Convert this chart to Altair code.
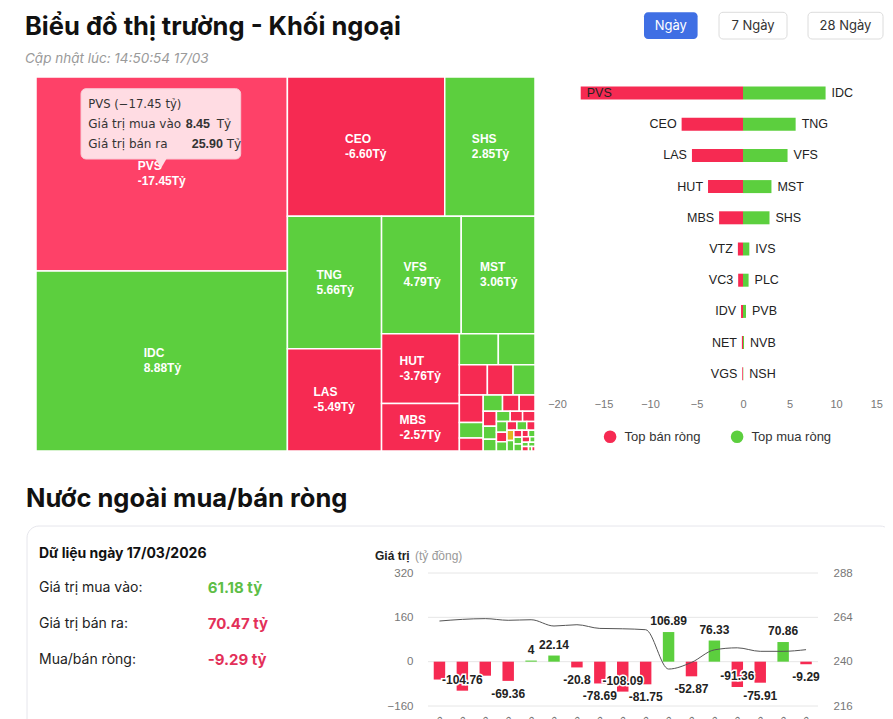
import altair as alt
import pandas as pd

# ---------------- texts / summary ----------------
TITLE = "Biểu đồ thị trường - Khối ngoại"
UPDATED = "Cập nhật lúc: 14:50:54 17/03"
PERIODS = ["Ngày", "7 Ngày", "28 Ngày"]
SECTION2 = "Nước ngoài mua/bán ròng"
DATA_DATE = "17/03/2026"
TOTAL_BUY = 61.18
TOTAL_SELL = 70.47

# ---------------- treemap (size = buy+sell, colour = net) ----------------
tm_names = ["PVS", "IDC", "CEO", "SHS", "TNG", "LAS", "VFS", "MST", "HUT", "MBS",
            "IVS", "PLC", "VTZ", "VC3", "PVB", "IDV", "NVB", "NET", "NSH", "VGS",
            "BVS", "DTD", "TIG", "NTP", "HHC", "L14", "PVC", "THD", "VCS", "SLS",
            "DHT", "TVC", "API", "AMV", "KSV", "VIG", "BCC", "DXP", "PSD", "NBC",
            "HLD", "TAR", "VNR", "PGS", "SHN", "TDN", "KLF"]
tm_total = [34.35, 31.90, 15.43, 8.85, 8.80, 6.78, 6.60, 6.11, 3.83, 2.60,
            0.85, 0.80, 0.60, 0.55, 0.47, 0.46, 0.26, 0.22, 0.22, 0.19,
            0.18, 0.14, 0.12, 0.11, 0.10, 0.09, 0.09, 0.08, 0.07, 0.07,
            0.06, 0.06, 0.05, 0.05, 0.05, 0.04, 0.04, 0.04, 0.03, 0.03,
            0.03, 0.02, 0.02, 0.02, 0.02, 0.01, 0.01]
tm_net = [-17.45, 8.88, -6.60, 2.85, 5.66, -5.49, 4.79, 3.06, -3.76, -2.57,
          0.68, 0.60, -0.55, -0.52, 0.32, -0.21, 0.11, -0.12, 0.03, -0.08,
          -0.03, -0.03, 0.02, 0.02, 0.01, -0.02, -0.02, 0.01, -0.01, 0.01,
          -0.01, 0.01, -0.01, 0.00, 0.01, -0.01, 0.01, 0.01, -0.01, 0.01,
          -0.01, 0.01, 0.01, -0.01, 0.01, 0.01, -0.01]
HOVER = "PVS"
HOVER_BUY = 8.45
HOVER_SELL = 25.90

# ---------------- top net sell / buy ----------------
sell_names = ["PVS", "CEO", "LAS", "HUT", "MBS", "VTZ", "VC3", "IDV", "NET", "VGS"]
sell_vals = [-17.45, -6.60, -5.49, -3.76, -2.57, -0.55, -0.52, -0.21, -0.12, -0.08]
buy_names = ["IDC", "TNG", "VFS", "MST", "SHS", "IVS", "PLC", "PVB", "NVB", "NSH"]
buy_vals = [8.88, 5.66, 4.79, 3.06, 2.85, 0.68, 0.60, 0.32, 0.11, 0.03]
SELL_LBL = "Top bán ròng"
BUY_LBL = "Top mua ròng"
div_ticks = [-20, -15, -10, -5, 0, 5, 10, 15]

# ---------------- daily net flow + index ----------------
dates = ["23/02", "24/02", "25/02", "26/02", "27/02", "02/03", "03/03", "04/03", "05/03",
         "06/03", "09/03", "10/03", "11/03", "12/03", "13/03", "16/03", "17/03"]
day_net = [-64.5, -104.76, -50.6, -69.36, 4, 22.14, -20.8, -78.69, -108.09,
           -81.75, 106.89, -52.87, 76.33, -91.36, -75.91, 70.86, -9.29]
index_vals = [262.0, 262.9, 263.3, 262.4, 262.7, 259.3, 260.0, 258.0, 257.8,
              257.3, 236.0, 239.6, 246.4, 247.5, 245.6, 245.6, 246.5]
label_mode = ["none", "in", "none", "out", "out", "out", "out", "out", "in",
              "out", "out", "out", "out", "in", "out", "out", "out"]
left_ticks = [-160, 0, 160, 320]
right_ticks = [216, 240, 264, 288]

# ---------------- style ----------------
W, H = 877, 711
FONT_UI = "Inter"
FONT_CH = "Liberation Sans"
FONT_TT = "DejaVu Sans"
RED = "#F62A52"
RED_HI = "#FE4168"
GREEN = "#5CCF3E"
YELLOW = "#E3B520"
TXT_RED = "#E33059"
TXT_GREEN = "#5DBE47"
BLUE = "#3F6FE4"
AX = "#777777"

one = pd.DataFrame({"k": [0]})


def text_at(s, x, y, size=13, weight="normal", color="#222222", align="left",
            baseline="middle", font=FONT_UI, style="normal"):
    return alt.Chart(one).mark_text(
        text=s, align=align, baseline=baseline, fontSize=size, fontWeight=weight,
        color=color, font=font, fontStyle=style
    ).encode(x=alt.value(x), y=alt.value(y))


def box(x, x2, y, y2, fill, stroke=None, radius=0, sw=1):
    kw = dict(cornerRadius=radius, fill=fill)
    if stroke:
        kw.update(stroke=stroke, strokeWidth=sw)
    return alt.Chart(one).mark_rect(**kw).encode(
        x=alt.value(x), x2=alt.value(x2), y=alt.value(y), y2=alt.value(y2))


def squarify(values, x0, y0, x1, y1):
    out = [None] * len(values)
    value = float(sum(values))
    n = len(values)
    i0 = 0
    while i0 < n:
        dx, dy = x1 - x0, y1 - y0
        i1 = i0
        s = values[i1]
        i1 += 1
        vmin = vmax = s
        alpha = max(dy / dx, dx / dy) / value
        beta = s * s * alpha
        best = max(vmax / beta, beta / vmin)
        while i1 < n:
            v = values[i1]
            s2 = s + v
            nmin, nmax = min(vmin, v), max(vmax, v)
            beta = s2 * s2 * alpha
            r = max(nmax / beta, beta / nmin)
            if r > best:
                break
            s, vmin, vmax, best = s2, nmin, nmax, r
            i1 += 1
        if dx < dy:
            h = dy * s / value
            cx = x0
            for k in range(i0, i1):
                w = dx * values[k] / s
                out[k] = (cx, y0, cx + w, y0 + h)
                cx += w
            y0 += h
        else:
            w = dx * s / value
            cy = y0
            for k in range(i0, i1):
                h = dy * values[k] / s
                out[k] = (x0, cy, x0 + w, cy + h)
                cy += h
            x0 += w
        value -= s
        i0 = i1
    return out


layers = []

# card background for the lower section
layers.append(box(19, 884, 518, 800, "white", stroke="#e6e6ec", radius=12))

# ---------------- header ----------------
layers.append(text_at(TITLE, 17, 26.5, size=25.5, weight=700, color="#111111", baseline="alphabetic"))
layers.append(text_at(UPDATED, 17, 51, size=13.5, color="#9a9a9a", style="italic"))
btn_pos = [(636, 689.6), (711, 779), (800, 875)]
for i, (lab, (bx0, bx1)) in enumerate(zip(PERIODS, btn_pos)):
    if i == 0:
        layers.append(box(bx0, bx1, 4.3, 31, BLUE, radius=4))
        layers.append(text_at(lab, (bx0 + bx1) / 2, 17.8, size=13, color="white", align="center"))
    else:
        layers.append(box(bx0, bx1, 4.3, 31, "white", stroke="#dcdcdc", radius=4))
        layers.append(text_at(lab, (bx0 + bx1) / 2, 17.8, size=13, color="#333333", align="center"))

# ---------------- treemap ----------------
TM_W, TM_H = 499, 374
order = sorted(range(len(tm_names)), key=lambda i: -tm_total[i])
vals = [tm_total[i] for i in order]
rects = squarify(vals, 0, 0, TM_W, TM_H)
tm_rows = []
for k, i in enumerate(order):
    x0, y0, x1, y1 = rects[k]
    tm_rows.append(dict(name=tm_names[i], total=tm_total[i], net=tm_net[i],
                        x0=x0, y0=y0, x1=x1, y1=y1, cx=(x0 + x1) / 2, cy=(y0 + y1) / 2,
                        w=x1 - x0, h=y1 - y0, vlab=f"{tm_net[i]:.2f}Tỷ"))
tm_df = pd.DataFrame(tm_rows)
tm_x = alt.Scale(domain=[0, TM_W], range=[28, 527], nice=False, zero=False)
tm_y = alt.Scale(domain=[0, TM_H], range=[69, 443], nice=False, zero=False)
state_expr = (f"datum.name == '{HOVER}' ? 'hover' : (datum.net > 0 ? 'up' : "
              "(datum.net < 0 ? 'down' : 'flat'))")
tm_base = alt.Chart(tm_df)
tm_rect = tm_base.transform_calculate(state=state_expr).mark_rect(
    stroke="white", strokeWidth=1.5
).encode(
    x=alt.X("x0:Q", scale=tm_x, axis=None), x2="x1:Q",
    y=alt.Y("y0:Q", scale=tm_y, axis=None), y2="y1:Q",
    color=alt.Color("state:N", legend=None,
                    scale=alt.Scale(domain=["hover", "up", "down", "flat"],
                                    range=[RED_HI, GREEN, RED, YELLOW])),
)
tm_lab = tm_base.transform_filter("datum.w >= 50 && datum.h >= 40").transform_calculate(
    lx="datum.cx - max(length(datum.name), length(datum.vlab)) * 3"
)
tm_name = tm_lab.mark_text(align="left", baseline="middle", dy=-7.5, fontSize=12,
                           fontWeight="bold", font=FONT_CH, color="white").encode(
    x=alt.X("lx:Q", scale=tm_x, axis=None), y=alt.Y("cy:Q", scale=tm_y, axis=None),
    text="name:N")
tm_val = tm_lab.mark_text(align="left", baseline="middle", dy=7.5, fontSize=12,
                          fontWeight="bold", font=FONT_CH, color="white").encode(
    x=alt.X("lx:Q", scale=tm_x, axis=None), y=alt.Y("cy:Q", scale=tm_y, axis=None),
    text="vlab:N")
layers.append(alt.layer(tm_rect, tm_name, tm_val))

# tooltip over hovered cell
hv = tm_net[tm_names.index(HOVER)]
layers.append(box(73, 232.7, 80.7, 151, "#FFDCE3", stroke="#f9c9d4", radius=5))
layers.append(alt.Chart(one).mark_point(shape="triangle-down", size=150, filled=True,
                                        color="#FFDCE3", opacity=1).encode(
    x=alt.value(153), y=alt.value(155)))
TT = "#333333"
layers.append(text_at(f"{HOVER} ({hv:.2f} tỷ)".replace("-", "−"), 80.3, 97.3, size=11.6,
                      font=FONT_TT, color=TT))
layers.append(text_at("Giá trị mua vào", 80.3, 116, size=12, font=FONT_TT, color=TT))
layers.append(text_at(f"{HOVER_BUY:.2f}", 177.7, 116, size=12.5, weight="bold", font=FONT_CH, color=TT))
layers.append(text_at("Tỷ", 208.7, 116, size=12, font=FONT_TT, color=TT))
layers.append(text_at("Giá trị bán ra", 80.3, 135.5, size=12, font=FONT_TT, color=TT))
layers.append(text_at(f"{HOVER_SELL:.2f}", 183.7, 135.5, size=12.5, weight="bold", font=FONT_CH, color=TT))
layers.append(text_at("Tỷ", 218.7, 135.5, size=12, font=FONT_TT, color=TT))

# ---------------- diverging top sell / buy ----------------
div_rows = []
for i, (n, v) in enumerate(zip(sell_names, sell_vals)):
    div_rows.append(dict(row=i, name=n, v=v, side=SELL_LBL))
for i, (n, v) in enumerate(zip(buy_names, buy_vals)):
    div_rows.append(dict(row=i, name=n, v=v, side=BUY_LBL))
div_df = pd.DataFrame(div_rows)
dv_x = alt.Scale(domain=[-20, 15], range=[549, 874.5], nice=False, zero=False)
dv_y = alt.Scale(domain=list(range(10)), range=[69.4, 381.4], paddingInner=0, paddingOuter=0)
dv_axis = alt.Axis(orient="bottom", offset=388.5 - H, values=div_ticks, domain=False,
                   ticks=False, tickSize=0, grid=False, labelPadding=2, labelFontSize=11,
                   labelColor=AX, labelFont=FONT_CH, labelFlush=False, title=None, zindex=1,
                   labelAlign={"condition": {"test": f"datum.value == {div_ticks[-1]}",
                                             "value": "right"}, "value": "center"})
dv_base = alt.Chart(div_df)
dv_bar = dv_base.mark_bar(size=13).encode(
    x=alt.X("v:Q", scale=dv_x, axis=dv_axis),
    y=alt.Y("row:O", scale=dv_y, axis=None),
    color=alt.Color("side:N", scale=alt.Scale(domain=[SELL_LBL, BUY_LBL], range=[RED, GREEN]),
                    legend=alt.Legend(orient="none", legendX=595.6, legendY=422,
                                      direction="horizontal", title=None, symbolType="circle",
                                      symbolSize=160, symbolStrokeWidth=0, labelFontSize=13,
                                      labelFont=FONT_CH, labelColor="#333333", labelOffset=8,
                                      columnPadding=30, padding=0)),
)
lab_kw = dict(baseline="middle", fontSize=12.5, font=FONT_CH, color="#222222")
dv_enc = dict(x=alt.X("v:Q", scale=dv_x, axis=dv_axis),
              y=alt.Y("row:O", scale=dv_y, axis=None), text="name:N")
dv_sell_out = dv_base.transform_filter(
    f"datum.side == '{SELL_LBL}' && datum.v >= -15").mark_text(align="right", dx=-5, **lab_kw).encode(**dv_enc)
dv_sell_in = dv_base.transform_filter(
    f"datum.side == '{SELL_LBL}' && datum.v < -15").mark_text(align="left", dx=6, **lab_kw).encode(**dv_enc)
dv_buy = dv_base.transform_filter(
    f"datum.side == '{BUY_LBL}'").mark_text(align="left", dx=6, **lab_kw).encode(**dv_enc)
layers.append(alt.layer(dv_bar, dv_sell_out, dv_sell_in, dv_buy))

# ---------------- lower section ----------------
layers.append(text_at(SECTION2, 18, 498.5, size=25.5, weight=700, color="#111111", baseline="alphabetic"))
net_total = round(TOTAL_BUY - TOTAL_SELL, 2)
layers.append(text_at(f"Dữ liệu ngày {DATA_DATE}", 31, 546, size=14, weight=700, color="#111111"))
layers.append(text_at("Giá trị mua vào:", 31, 579.5, size=14, color="#222222"))
layers.append(text_at(f"{TOTAL_BUY:.2f} tỷ", 199.7, 579.5, size=15, weight=700, color=TXT_GREEN))
layers.append(text_at("Giá trị bán ra:", 31, 616, size=14, color="#222222"))
layers.append(text_at(f"{TOTAL_SELL:.2f} tỷ", 199.7, 616, size=15, weight=700, color=TXT_RED))
layers.append(text_at("Mua/bán ròng:", 31, 652, size=14, color="#222222"))
layers.append(text_at(f"{net_total:.2f} tỷ", 199.7, 652, size=15, weight=700, color=TXT_RED))

layers.append(text_at("Giá trị", 367, 548, size=12, weight="bold", font=FONT_CH, color="#222222"))
layers.append(text_at("(tỷ đồng)", 407, 548, size=12, font=FONT_CH, color="#999999"))

day_df = pd.DataFrame({"date": dates, "v": day_net, "idx": index_vals, "mode": label_mode,
                       "lab": [f"{v:g}" for v in day_net]})
tick_df = pd.DataFrame({"tick": left_ticks})
bx = alt.Scale(domain=dates, range=[420, 809.5], paddingInner=0.5, paddingOuter=0.25)
by = alt.Scale(domain=[-160, 320], range=[698, 565], nice=False)
by2 = alt.Scale(domain=[216, 288], range=[698, 565], nice=False, zero=False)
bx_axis = alt.Axis(orient="bottom", offset=698 - H, domain=False, ticks=False, tickSize=0,
                   labelPadding=8, labelAngle=-45, labelFontSize=11, labelColor=AX,
                   labelFont=FONT_CH, grid=False, title=None, zindex=1)
by_axis = alt.Axis(orient="left", offset=-420, values=left_ticks, domain=False, ticks=False,
                   tickSize=0, grid=False, labelPadding=15, labelFontSize=11.5,
                   labelColor=AX, labelFont=FONT_CH, title=None, zindex=1)
by2_axis = alt.Axis(orient="right", offset=810 - W, values=right_ticks, domain=False,
                    ticks=False, tickSize=0, grid=False, labelPadding=15, labelFontSize=11.5,
                    labelColor=AX, labelFont=FONT_CH, title=None, zindex=1)

grid = alt.Chart(tick_df).mark_rule(color="#e6e6e6", strokeWidth=1).encode(
    x=alt.value(420), x2=alt.value(810),
    y=alt.Y("tick:Q", scale=by, axis=by_axis))
bars = alt.Chart(day_df).mark_bar().encode(
    x=alt.X("date:N", sort=None, scale=bx, axis=bx_axis),
    y=alt.Y("v:Q", scale=by, axis=by_axis),
    color=alt.condition("datum.v >= 0", alt.value(GREEN), alt.value(RED)))
blab_kw = dict(align="center", baseline="middle", fontSize=12, fontWeight="bold",
               font=FONT_CH, color="#222222")
b_enc = dict(x=alt.X("date:N", sort=None, scale=bx, axis=bx_axis),
             y=alt.Y("v:Q", scale=by, axis=by_axis), text="lab:N")
lab_pos = alt.Chart(day_df).transform_filter("datum.mode == 'out' && datum.v >= 0").mark_text(
    dy=-11, **blab_kw).encode(**b_enc)
lab_neg = alt.Chart(day_df).transform_filter("datum.mode == 'out' && datum.v < 0").mark_text(
    dy=13, **blab_kw).encode(**b_enc)
lab_in_halo = alt.Chart(day_df).transform_filter("datum.mode == 'in'").mark_text(
    dy=-10.5, stroke="white", strokeWidth=3, **blab_kw).encode(**b_enc)
lab_in = alt.Chart(day_df).transform_filter("datum.mode == 'in'").mark_text(
    dy=-10.5, **blab_kw).encode(**b_enc)
left_part = alt.layer(grid, bars, lab_pos, lab_neg, lab_in_halo, lab_in)
line = alt.Chart(day_df).mark_line(interpolate="monotone", color="#555555", strokeWidth=1).encode(
    x=alt.X("date:N", sort=None, scale=bx, axis=bx_axis),
    y=alt.Y("idx:Q", scale=by2, axis=by2_axis))
layers.append(alt.layer(left_part, line).resolve_scale(y="independent"))

chart = alt.layer(*layers).resolve_scale(
    x="independent", y="independent", color="independent"
).properties(
    width=W, height=H, padding=0, autosize=alt.AutoSizeParams(type="none")
).configure_view(stroke=None)

chart.save("out.html", embed_options={"renderer": "svg", "actions": False})
